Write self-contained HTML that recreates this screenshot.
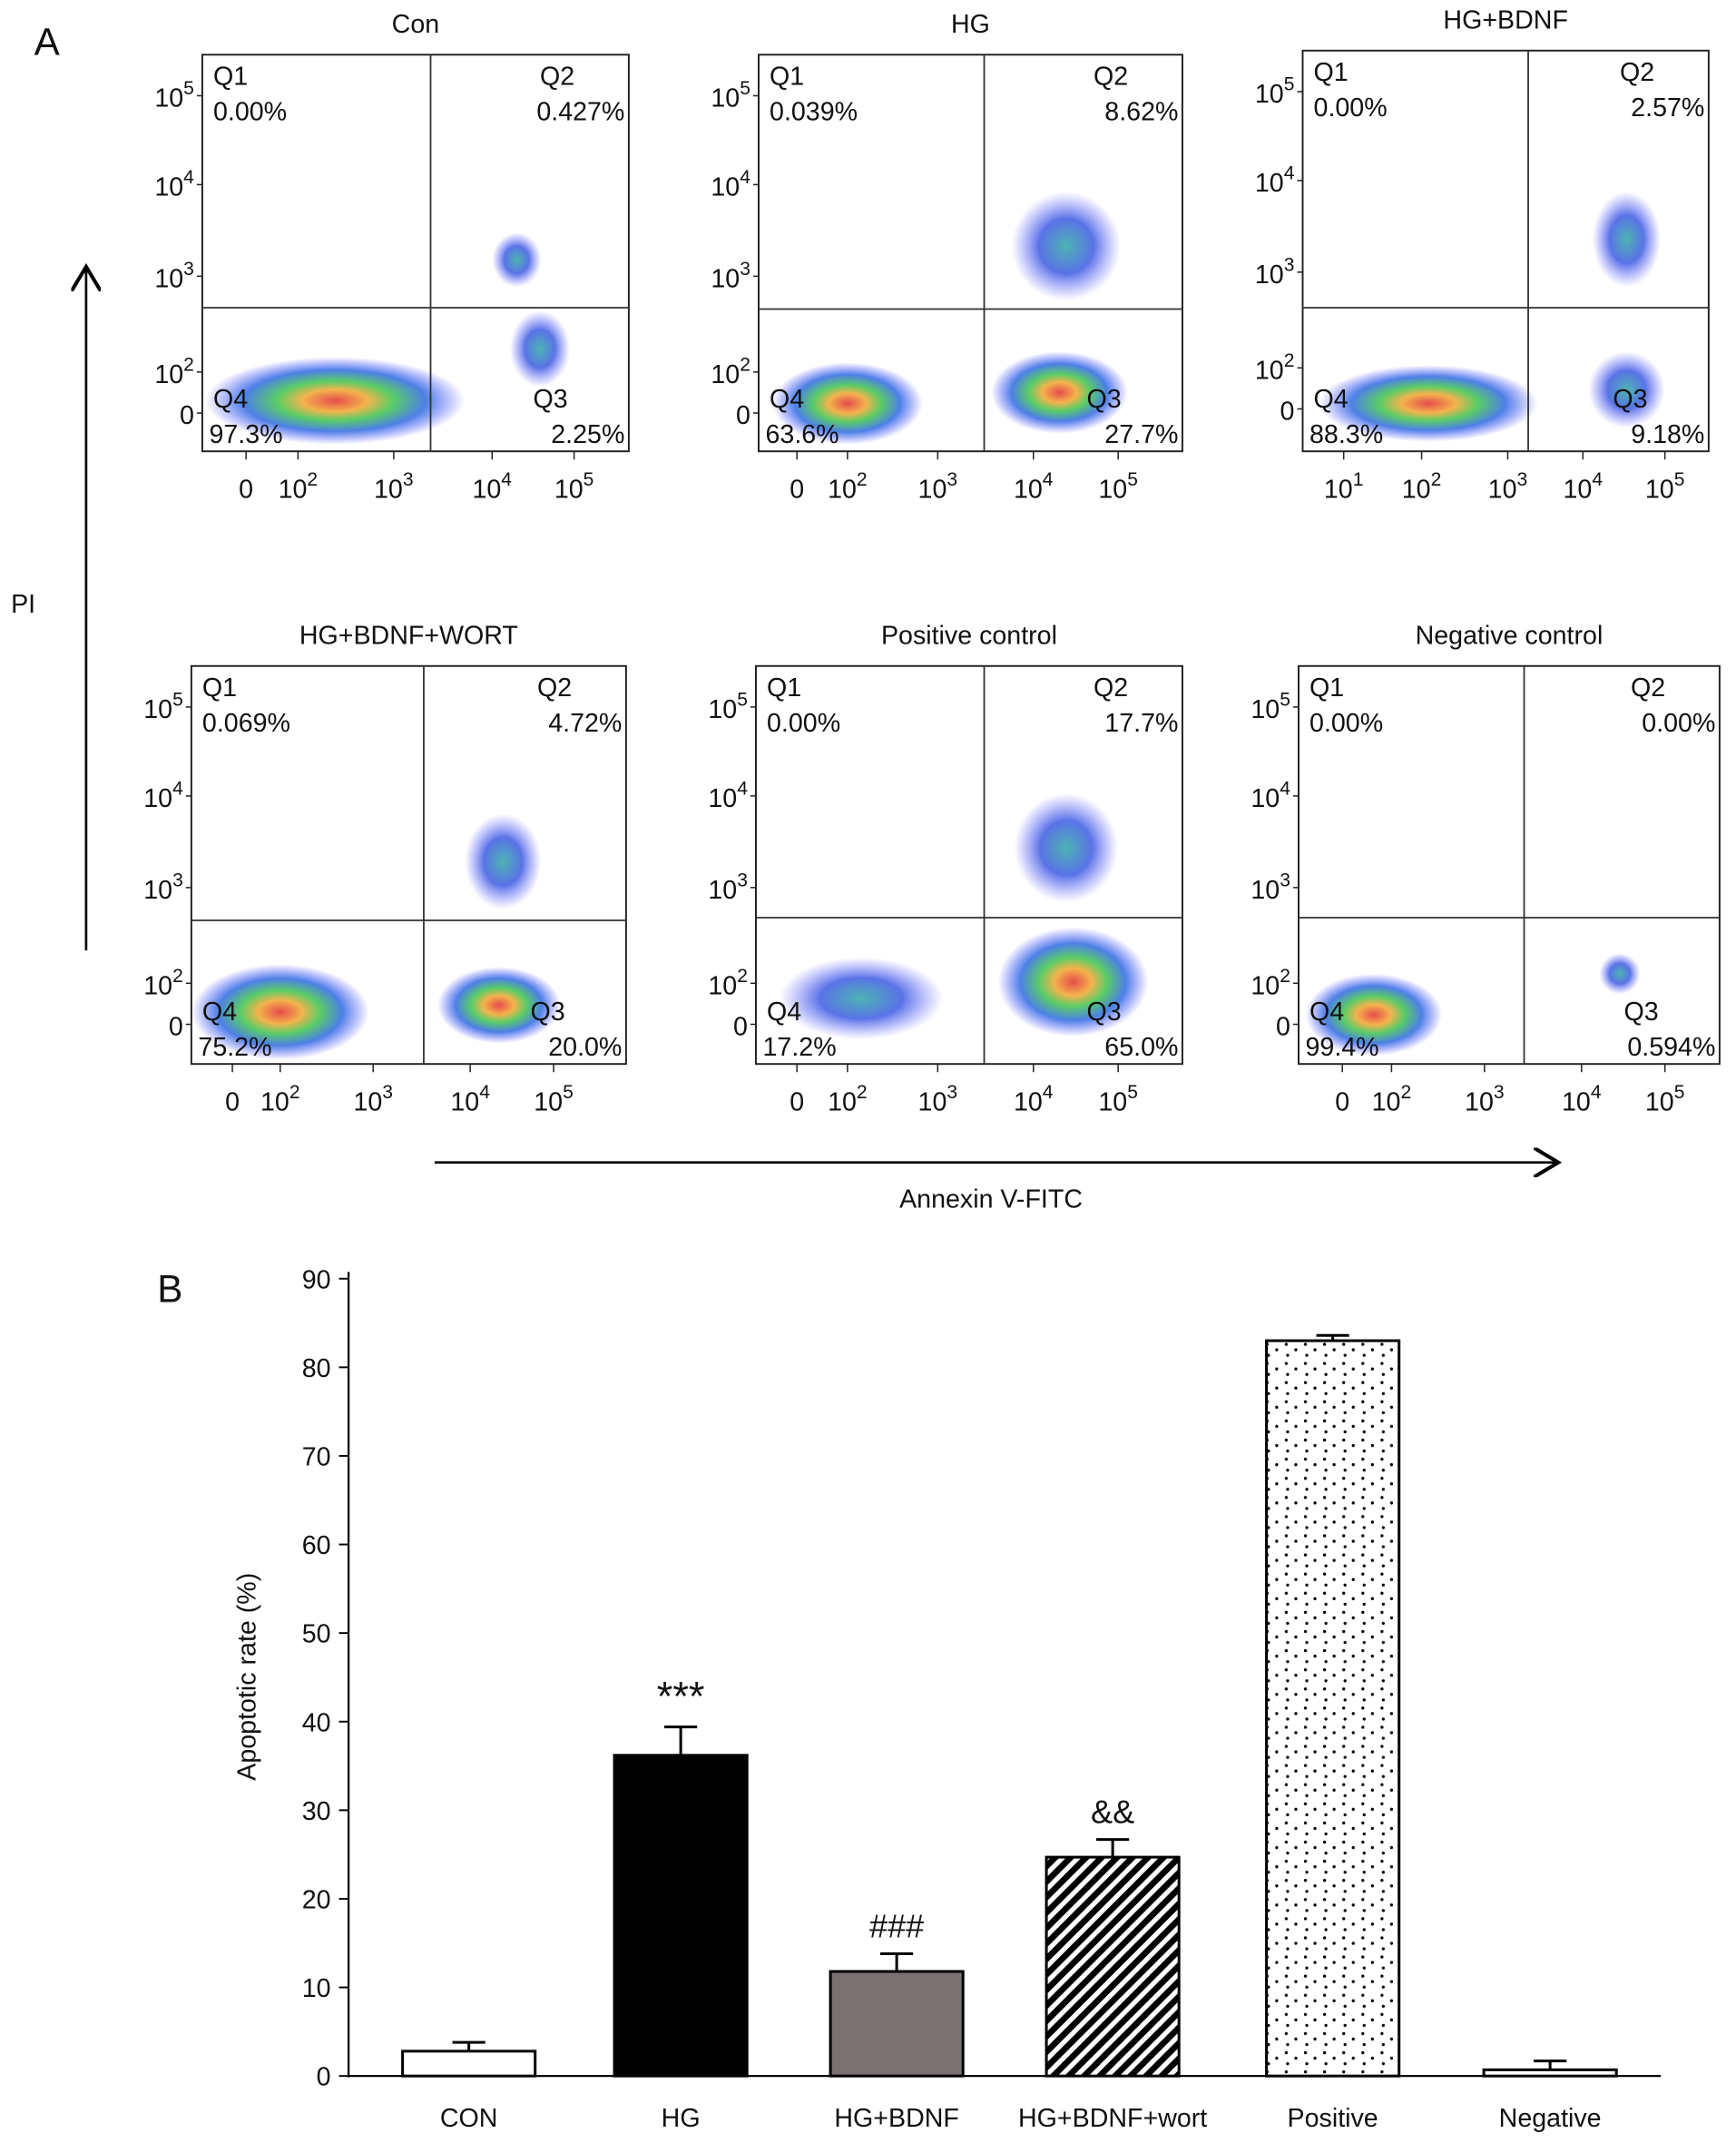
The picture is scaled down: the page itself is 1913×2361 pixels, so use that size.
<!DOCTYPE html>
<html><head><meta charset="utf-8"><style>
html,body{margin:0;padding:0;background:#fff}
svg{display:block}
text{font-family:"Liberation Sans",sans-serif;fill:#111}
</style></head><body>
<svg id="fig" width="1913" height="2361" viewBox="0 0 1270 1567" preserveAspectRatio="none" xmlns="http://www.w3.org/2000/svg">
<defs>
<radialGradient id="dens" cx="50%" cy="50%" r="50%">
<stop offset="0" stop-color="#e02020"/><stop offset="0.25" stop-color="#f0a020"/><stop offset="0.45" stop-color="#30c040"/><stop offset="0.7" stop-color="#2060e0"/><stop offset="1" stop-color="#4040ff" stop-opacity="0"/>
</radialGradient>
<radialGradient id="densLow" cx="50%" cy="50%" r="50%">
<stop offset="0" stop-color="#20a0a0"/><stop offset="0.5" stop-color="#3050e0"/><stop offset="1" stop-color="#6060ff" stop-opacity="0"/>
</radialGradient>
<pattern id="hatch" width="8" height="8" patternUnits="userSpaceOnUse" patternTransform="rotate(45)">
<rect width="8" height="8" fill="#fff"/><rect width="4.5" height="8" fill="#000"/>
</pattern>
<pattern id="dots" width="14" height="14" patternUnits="userSpaceOnUse">
<rect width="14" height="14" fill="#fff"/><circle cx="3" cy="3" r="1.1" fill="#000"/><circle cx="10" cy="7" r="1.1" fill="#000"/><circle cx="4" cy="11" r="1.1" fill="#000"/>
</pattern>
<marker id="arr" markerWidth="12" markerHeight="12" refX="10" refY="6" orient="auto"><path d="M0,0 L10,6 L0,12" fill="none" stroke="#000" stroke-width="1.5"/></marker>
</defs>
<g id="panelA"></g>
<g id="panelB"></g>
</svg>
<script>
const NS='http://www.w3.org/2000/svg';
function mk(tag,attrs,parent,txt){const e=document.createElementNS(NS,tag);for(const k in attrs)e.setAttribute(k,attrs[k]);if(txt!==undefined)e.textContent=txt;parent.appendChild(e);return e;}
function powLabel(parent,x,y,exp,anchor){
  const t=mk('text',{x:x,y:y,'font-size':19,'text-anchor':anchor},parent);
  if(exp===''){t.textContent='0';return t;}
  mk('tspan',{},t,'10');
  mk('tspan',{dy:-9,'font-size':14},t,exp);
  return t;
}

// ---------- Panel A data ----------
const plotTitles=['Con','HG','HG+BDNF','HG+BDNF+WORT','Positive control','Negative control'];
const q1Vals=['0.00%','0.039%','0.00%','0.069%','0.00%','0.00%'];
const q2Vals=['0.427%','8.62%','2.57%','4.72%','17.7%','0.00%'];
const q3Vals=['2.25%','27.7%','9.18%','20.0%','65.0%','0.594%'];
const q4Vals=['97.3%','63.6%','88.3%','75.2%','17.2%','99.4%'];
const xTickSets=[['','2','3','4','5'],['','2','3','4','5'],['1','2','3','4','5'],['','2','3','4','5'],['','2','3','4','5'],['','2','3','4','5']];
const yTicks=['5','4','3','2',''];

const boxes=[[148,40,460,330,315,225],[555,40,865,330,720,226],[953,37,1250,330,1118,225],
             [140,487,458,778,310,673],[553,487,865,778,720,671],[950,487,1258,778,1115,671]];
const xTickPos=[[180,218,288,360,420],[583,620,686,756,818],[983,1040,1103,1158,1218],
                [170,205,273,344,405],[583,620,686,756,818],[982,1018,1086,1157,1218]];
const clusters=[
 [[245,293,95,32,1],[395,255,22,28,0],[378,190,18,20,0]],
 [[620,295,55,30,1],[775,287,50,30,1],[780,180,40,40,0]],
 [[1045,295,80,28,1],[1190,285,28,28,0],[1190,175,25,35,0]],
 [[205,740,65,35,1],[365,735,45,28,1],[368,630,28,35,0]],
 [[630,730,60,30,0],[785,718,55,40,1],[780,620,38,40,0]],
 [[1005,742,50,30,1],[1185,712,15,15,0]]
];

const A=document.getElementById('panelA');
let t=mk('text',{x:25,y:40,'font-size':28},A,'A');

boxes.forEach((b,i)=>{
  const [x0,y0,x1,y1,vx,hy]=b;
  const g=mk('g',{},A);
  
  
  let tt=mk('text',{x:(x0+x1)/2,y:y0-16,'font-size':19,'text-anchor':'middle'},g,plotTitles[i]);
  
  clusters[i].forEach(c=>{
    const e=mk('ellipse',{cx:c[0],cy:c[1],rx:c[2],ry:c[3],fill:c[4]?'url(#dens)':'url(#densLow)',opacity:0.8},g);
    
  });
  mk('rect',{x:x0,y:y0,width:x1-x0,height:y1-y0,fill:'none',stroke:'#222','stroke-width':1.3},g);
  mk('line',{x1:vx,y1:y0,x2:vx,y2:y1,stroke:'#333','stroke-width':1.2},g);
  mk('line',{x1:x0,y1:hy,x2:x1,y2:hy,stroke:'#333','stroke-width':1.2},g);
  const fs=19;
  mk('text',{x:x0+8,y:y0+22,'font-size':fs},g,'Q1');
  mk('text',{x:x0+8,y:y0+48,'font-size':fs},g,q1Vals[i]);
  mk('text',{x:x1-65,y:y0+22,'font-size':fs},g,'Q2');
  mk('text',{x:x1-3,y:y0+48,'font-size':fs,'text-anchor':'end'},g,q2Vals[i]);
  mk('text',{x:x0+8,y:y1-32,'font-size':fs},g,'Q4');
  mk('text',{x:x0+5,y:y1-6,'font-size':fs},g,q4Vals[i]);
  mk('text',{x:x1-70,y:y1-32,'font-size':fs},g,'Q3');
  mk('text',{x:x1-3,y:y1-6,'font-size':fs,'text-anchor':'end'},g,q3Vals[i]);
  const yp=[y0+30,y0+95,y0+162,y0+232,y0+262];
  yTicks.forEach((l,k)=>{const lab=powLabel(g,x0-6,yp[k]+8,l,'end');
    
    mk('line',{x1:x0-4,y1:yp[k],x2:x0,y2:yp[k],stroke:'#222'},g);});
  xTickSets[i].forEach((l,k)=>{const lab=powLabel(g,xTickPos[i][k],y1+34,l,'middle');
    
    mk('line',{x1:xTickPos[i][k],y1:y1,x2:xTickPos[i][k],y2:y1+6,stroke:'#222'},g);});
});
let pa=mk('line',{x1:63,y1:695,x2:63,y2:195,stroke:'#000','stroke-width':1.8,'marker-end':'url(#arr)'},A);

t=mk('text',{x:17,y:448,'font-size':19,'text-anchor':'middle'},A,'PI');
pa=mk('line',{x1:318,y1:850,x2:1140,y2:850,stroke:'#000','stroke-width':1.8,'marker-end':'url(#arr)'},A);

t=mk('text',{x:725,y:883,'font-size':19,'text-anchor':'middle'},A,'Annexin V-FITC');

// ---------- Panel B data ----------
const categories=['CON','HG','HG+BDNF','HG+BDNF+wort','Positive','Negative'];
const values=[2.8,36.2,11.8,24.7,83.0,0.7];
const errors=[1.0,3.2,2.0,2.0,0.6,1.0];
const marks=['','***','###','&&','',''];
const yTickVals=[0,10,20,30,40,50,60,70,80,90];
const fills=['#fff','#000','#7a7272','url(#hatch)','url(#dots)','#fff'];

const B=document.getElementById('panelB');
t=mk('text',{x:115,y:952,'font-size':28},B,'B');
const yB=v=>1518-v*(1518-935)/90;
const xL=255,xR=1215;
const centers=[343,498,656,814,975,1134];
const xC=i=>centers[i];
const bw=97;
let ax=mk('line',{x1:xL,y1:930,x2:xL,y2:1519,stroke:'#000','stroke-width':1.5},B);

ax=mk('line',{x1:xL,y1:1518,x2:xR,y2:1518,stroke:'#000','stroke-width':1.5},B);

yTickVals.forEach(v=>{
  mk('line',{x1:xL-7,y1:yB(v),x2:xL,y2:yB(v),stroke:'#000','stroke-width':1.3},B);
  const tl=mk('text',{x:xL-13,y:yB(v)+7,'font-size':19,'text-anchor':'end'},B,String(v));
  
});
t=mk('text',{x:187,y:1226,'font-size':19,'text-anchor':'middle',transform:'rotate(-90 187 1226)'},B,'Apoptotic rate (%)');

categories.forEach((c,i)=>{
  const cx=xC(i),top=yB(values[i]);
  const bar=mk('rect',{x:cx-bw/2,y:top,width:bw,height:1518-top,fill:fills[i],stroke:'#000','stroke-width':2},B);
  
  
  const et=yB(values[i]+errors[i]);
  const eb=mk('path',{d:`M${cx},${top} V${et} M${cx-12},${et} H${cx+12}`,stroke:'#000','stroke-width':2,fill:'none'},B);
  
  const cl=mk('text',{x:cx,y:1555,'font-size':19,'text-anchor':'middle'},B,c);
  
  if(marks[i]){const m=mk('text',{x:cx,y:et-12,'font-size':marks[i]==='***'?30:24,'text-anchor':'middle','font-family':'Liberation Serif, serif'},B,marks[i]);
    }
});
</script>
</body></html>
